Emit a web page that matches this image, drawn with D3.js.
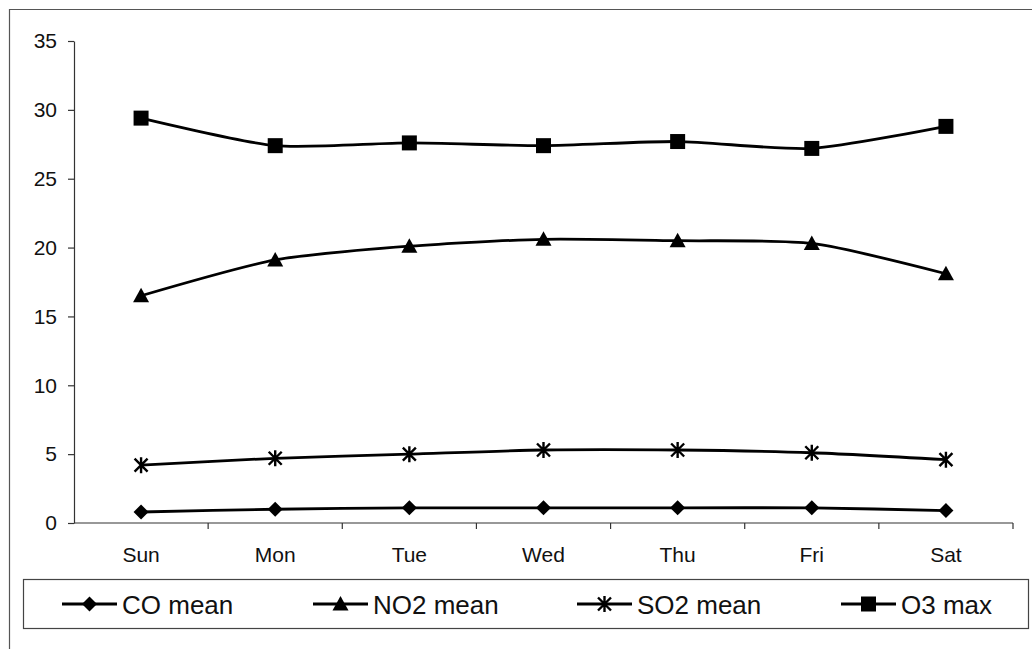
<!DOCTYPE html>
<html>
<head>
<meta charset="utf-8">
<script src="https://cdn.jsdelivr.net/npm/d3@7"></script>
<style>
  html, body { margin: 0; padding: 0; background: #fff; }
  svg { display: block; font-family: Arial, "Liberation Sans", sans-serif; }
</style>
</head>
<body>
<svg id="chart" width="1032" height="649"></svg>
<script>
// Day-of-week pollutant levels
const days = ["Sun", "Mon", "Tue", "Wed", "Thu", "Fri", "Sat"];
const coMean  = [0.8, 1.0, 1.1, 1.1, 1.1, 1.1, 0.9];
const no2Mean = [16.5, 19.1, 20.1, 20.6, 20.5, 20.3, 18.1];
const so2Mean = [4.2, 4.7, 5.0, 5.3, 5.3, 5.1, 4.6];
const o3Max   = [29.4, 27.4, 27.6, 27.4, 27.7, 27.2, 28.8];
const yTicks  = [0, 5, 10, 15, 20, 25, 30, 35];
const seriesNames = ["CO mean", "NO2 mean", "SO2 mean", "O3 max"];
const seriesMarkers = ["diamond", "triangle", "asterisk", "square"];

const series = [coMean, no2Mean, so2Mean, o3Max].map((vals, i) => ({
  name: seriesNames[i], marker: seriesMarkers[i], values: vals
}));

const svg = d3.select("#chart");
const plot = { left: 74, right: 1013, top: 41, bottom: 523 };

// outer frame (top and left edges)
svg.append("path")
  .attr("d", "M9.5,649 L9.5,9.5 L1032,9.5")
  .attr("fill", "none").attr("stroke", "#555").attr("stroke-width", 1.2);

const x = d3.scaleBand().domain(days).range([plot.left, plot.right]);
const y = d3.scaleLinear().domain([0, 35]).range([plot.bottom, plot.top]);

// y axis
const yAxis = svg.append("g")
  .attr("transform", `translate(${plot.left},0)`)
  .call(d3.axisLeft(y).tickValues(yTicks).tickSize(6).tickPadding(11).tickSizeOuter(0));
yAxis.selectAll("text").attr("font-size", 21).attr("fill", "#111").attr("font-family", "Arial, 'Liberation Sans', sans-serif");
yAxis.selectAll("line, path").attr("stroke", "#333").attr("stroke-width", 1.2);

// x axis: ticks at category boundaries
const xAxis = svg.append("g").attr("transform", `translate(0,${plot.bottom})`);
xAxis.append("line")
  .attr("x1", plot.left).attr("x2", plot.right)
  .attr("stroke", "#333").attr("stroke-width", 1.2);
const bounds = days.map(d => x(d)).concat([x(days[days.length - 1]) + x.bandwidth()]);
xAxis.selectAll("line.tick").data(bounds.slice(1)).join("line")
  .attr("class", "tick")
  .attr("x1", d => d).attr("x2", d => d).attr("y1", 0).attr("y2", 6)
  .attr("stroke", "#333").attr("stroke-width", 1.2);
xAxis.selectAll("text").data(days).join("text")
  .attr("x", d => x(d) + x.bandwidth() / 2)
  .attr("y", 39)
  .attr("text-anchor", "middle")
  .attr("font-size", 21).attr("fill", "#111")
  .text(d => d);

// marker shapes
function markerPath(type) {
  switch (type) {
    case "diamond":  return "M0,-7.5 L7.5,0 L0,7.5 L-7.5,0 Z";
    case "triangle": return "M0,-8 L8,6.5 L-8,6.5 Z";
    case "square":   return "M-7.5,-7.5 L7.5,-7.5 L7.5,7.5 L-7.5,7.5 Z";
    case "asterisk": return "M0,-8 L0,8 M-6.5,-6.5 L6.5,6.5 M-6.5,6.5 L6.5,-6.5";
  }
}
function drawMarker(g, type, cx, cy) {
  const p = g.append("path").attr("d", markerPath(type))
    .attr("transform", `translate(${cx},${cy})`);
  if (type === "asterisk") p.attr("fill", "none").attr("stroke", "#000").attr("stroke-width", 2.4);
  else p.attr("fill", "#000");
}

const cx = d => x(d) + x.bandwidth() / 2;
const line = d3.line()
  .x((v, i) => cx(days[i]))
  .y(v => y(v))
  .curve(d3.curveCardinal.tension(0.3));

const lines = svg.append("g");
series.forEach(s => {
  lines.append("path")
    .attr("d", line(s.values))
    .attr("fill", "none").attr("stroke", "#000").attr("stroke-width", 2.8);
  s.values.forEach((v, i) => drawMarker(lines, s.marker, cx(days[i]), y(v)));
});

// legend
const legend = svg.append("g");
legend.append("rect")
  .attr("x", 23.5).attr("y", 579.5).attr("width", 1005).attr("height", 49)
  .attr("fill", "#fff").attr("stroke", "#444").attr("stroke-width", 1.2);
const legendX = [62, 313, 577, 841];
series.forEach((s, i) => {
  const lx = legendX[i], ly = 604;
  legend.append("line")
    .attr("x1", lx).attr("x2", lx + 55).attr("y1", ly).attr("y2", ly)
    .attr("stroke", "#000").attr("stroke-width", 2.8);
  drawMarker(legend, s.marker, lx + 27.5, ly);
  legend.append("text")
    .attr("x", lx + 60).attr("y", ly + 9.5)
    .attr("font-size", 26).attr("fill", "#111")
    .text(s.name);
});
</script>
</body>
</html>
